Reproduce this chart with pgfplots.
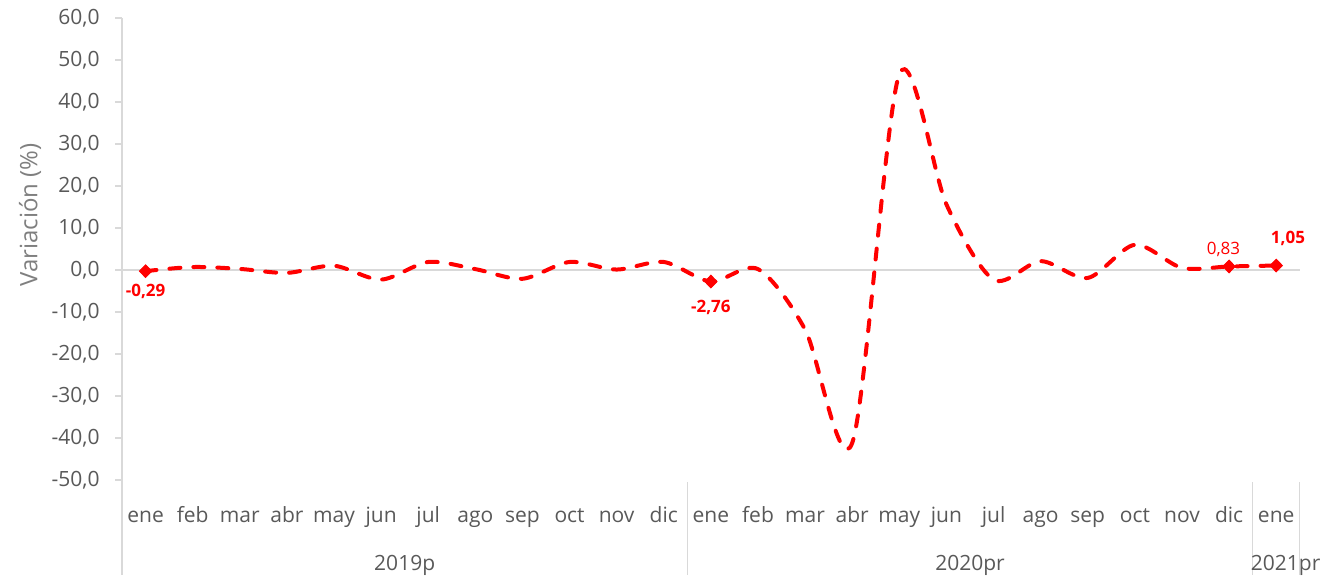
\documentclass[border=0pt]{standalone}
\usepackage{fontspec}
\setmainfont{Open Sans}
\usepackage{pgfplots}
\pgfplotsset{compat=1.18}

\definecolor{txtgray}{HTML}{595959}
\definecolor{lblgray}{HTML}{7F7F7F}
\definecolor{axgray}{HTML}{D9D9D9}
\definecolor{serred}{HTML}{FF0000}

% variacion mensual, ene 2019 .. ene 2021
\pgfplotstableread{
x y
0 -0.29
1 0.7
2 0.25
3 -0.7
4 1.0
5 -2.3
6 1.9
7 0.2
8 -2.1
9 1.9
10 0.1
11 1.9
12 -2.76
13 0.2
14 -14.2
15 -41.2
16 46.6
17 15.6
18 -2.3
19 2.1
20 -1.9
21 6.0
22 0.5
23 0.83
24 1.05
}\datatable

\begin{document}
\begin{tikzpicture}
\begin{axis}[
    scale only axis,
    width=589pt, height=231pt,
    xmin=-0.5, xmax=24.5,
    ymin=-50, ymax=60,
    clip=false,
    axis line style={draw=none},
    xtick={0,...,24},
    xticklabels={ene,feb,mar,abr,may,jun,jul,ago,sep,oct,nov,dic,
                 ene,feb,mar,abr,may,jun,jul,ago,sep,oct,nov,dic,ene},
    xtick style={draw=none},
    ytick={-50,-40,...,60},
    ytick pos=left,
    ytick style={draw=axgray, line width=0.6pt},
    tick align=outside,
    major tick length=3.5pt,
    /pgf/number format/.cd, fixed, fixed zerofill, precision=1, use comma, 1000 sep={}, assume math mode=true,
    /pgfplots/.cd,
    tick label style={font=\fontsize{10.5}{12}\selectfont, text=txtgray},
    yticklabel style={anchor=east, inner sep=0pt, xshift=-7.5pt},
    xticklabel style={anchor=base, inner sep=0pt, yshift=-18pt},
]
% bounding box
\path (rel axis cs:-0.1036,1.039) (rel axis cs:1.0229,-0.2121);

% axis lines and separators
\draw[axgray, line width=0.6pt] (rel axis cs:0,1) -- (rel axis cs:0,-0.2056);
\draw[axgray, line width=0.8pt] (axis cs:-0.5,0) -- (axis cs:24.5,0);
\draw[axgray, line width=0.6pt] (axis cs:11.5,-50.5) -- (axis cs:11.5,-72.6);
\draw[axgray, line width=0.6pt] (axis cs:23.5,-50.5) -- (axis cs:23.5,-72.6);
\draw[axgray, line width=0.6pt] (axis cs:24.5,-50.5) -- (axis cs:24.5,-72.6);

\addplot[serred, line width=2pt, line cap=round, dash pattern=on 5.5pt off 6.5pt, smooth, no marks]
  table[x=x, y=y] {\datatable};
\addplot[only marks, mark=diamond*, mark size=3.2pt, serred, mark options={xscale=1.3}]
  coordinates {(0,-0.29) (12,-2.76) (23,0.83) (24,1.05)};

% data labels
\node[serred, font=\fontsize{8.5}{10}\selectfont\bfseries] at (axis cs:0,-5.2) {-0,29};
\node[serred, font=\fontsize{8.5}{10}\selectfont\bfseries] at (axis cs:12,-9.0) {-2,76};
\node[serred, font=\fontsize{8.5}{10}\selectfont] at (axis cs:22.88,5.0) {0,83};
\node[serred, font=\fontsize{8.5}{10}\selectfont\bfseries] at (axis cs:24.25,7.4) {1,05};

% year labels
\node[anchor=base, text=txtgray, font=\fontsize{10.5}{12}\selectfont] at (axis cs:5.5,-71.6) {2019p};
\node[anchor=base, text=txtgray, font=\fontsize{10.5}{12}\selectfont] at (axis cs:17.5,-71.6) {2020pr};
\node[anchor=base, text=txtgray, font=\fontsize{10.5}{12}\selectfont] at (axis cs:24.2,-71.6) {2021pr};

% y label
\node[rotate=90, text=lblgray, font=\fontsize{12}{14}\selectfont] at (rel axis cs:-0.0781,0.5736) {Variación\ (\%)};
\end{axis}
\end{tikzpicture}
\end{document}
